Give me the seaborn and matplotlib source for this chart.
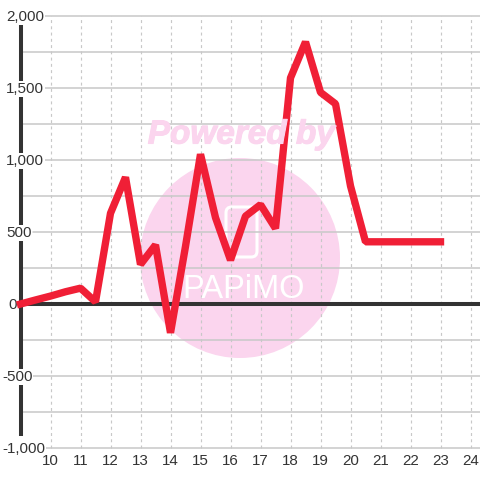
import matplotlib
matplotlib.use("Agg")
import matplotlib.pyplot as plt
import matplotlib.patheffects as pe
from matplotlib.patches import Circle, FancyBboxPatch
import numpy as np
import pandas as pd
import seaborn as sns

hours = [9, 9.5, 10, 10.5, 11, 11.5, 12, 12.5, 13, 13.5, 14, 14.5, 15, 15.5, 16, 16.5,
         17, 17.5, 18, 18.5, 19, 19.5, 20, 20.5, 21, 21.5, 22, 22.5, 23]
values = [0, 28, 55, 85, 110, 15, 630, 880, 275, 410, -200, 400, 1040, 600, 305, 610,
          690, 525, 1570, 1820, 1470, 1390, 820, 432, 432, 432, 432, 432, 432]
x_ticks = list(range(10, 25))
y_major = [-1000, -500, 0, 500, 1000, 1500, 2000]
y_minor = [-750, -250, 250, 750, 1250, 1750]
y_labels = ["-1,000", "-500", "0", "500", "1,000", "1,500", "2,000"]

sns.set_theme(style="white")
plt.rcParams["font.family"] = ["Liberation Sans", "DejaVu Sans"]

TXT = "#333333"
GRID = "#c8c8c8"
PINK = "#fbd5ee"
FS = 10.9

fig = plt.figure(figsize=(4.8, 4.8), dpi=100, facecolor="white")
ax = fig.add_axes([0, 0, 1, 1])
ax.set_xlim(9 - 20.5 / 30, 9 + 459.5 / 30)
ax.set_ylim(-1000 - 32 / 0.144, 2000 + 16 / 0.144)
ax.axis("off")
xmax = ax.get_xlim()[1]


def px(p):
    return 9 + (p - 20.5) / 30


# watermark
ax.add_patch(Circle((240 / 480, 1 - 258 / 480), 100 / 480, transform=fig.transFigure,
                    facecolor=PINK, edgecolor="none", zorder=0))
fig.text(241.5 / 480, 1 - 135 / 480, "Powered by", color=PINK, fontsize=24, fontweight="bold",
         fontstyle="italic", ha="center", va="center", zorder=0.5,
         path_effects=[pe.withStroke(linewidth=0.8, foreground=PINK)])
ax.add_patch(FancyBboxPatch((226 / 480, 1 - 257 / 480), 31 / 480, 50 / 480,
                            boxstyle="round,pad=0,rounding_size=0.012", transform=fig.transFigure,
                            facecolor="none", edgecolor="white", linewidth=2.2, zorder=0.6))
fig.text(244 / 480, 1 - 290 / 480, "PAPiMO", color="white", fontsize=23.5, ha="center", va="center",
         zorder=0.6)

# grid
for t in x_ticks:
    ax.plot([t, t], [-1000, 2000], color=GRID, lw=0.85, ls=(0, (2.5, 2.8)), zorder=1)
for v in y_minor:
    ax.plot([9, xmax], [v, v], color=GRID, lw=1.1, zorder=1)
for v, lab in zip(y_major, y_labels):
    if v == 0:
        continue
    start = 33 if abs(v) == 500 else 45
    ax.plot([px(start), xmax], [v, v], color=GRID, lw=1.1, zorder=1)

# axes
ax.plot([9, 9], [-920, 1945], color=TXT, lw=2.9, solid_capstyle="butt", zorder=2)
ax.plot([9, xmax], [0, 0], color=TXT, lw=2.9, solid_capstyle="butt", zorder=2)
for v, lab in zip(y_major, y_labels):
    left = 2 if v < 0 else (8 if v == 0 else 6)
    bb = dict(facecolor="white", edgecolor="none", pad=0.6) if v != 0 else None
    ax.text(px(left), v - 8, lab, ha="left", va="center", fontsize=FS, color=TXT,
            bbox=bb, zorder=3)
for t in x_ticks:
    ax.text(t, -1000 - 13 / 0.144, str(t), ha="center", va="center", fontsize=FS, color=TXT, zorder=3)

df = pd.DataFrame({"hour": hours, "value": values})
sns.lineplot(data=df, x="hour", y="value", ax=ax, color="#f01f36", linewidth=5.3, errorbar=None,
             solid_capstyle="projecting", solid_joinstyle="bevel", zorder=4)
ax.axis("off")
fig.savefig("out.png", dpi=100)
